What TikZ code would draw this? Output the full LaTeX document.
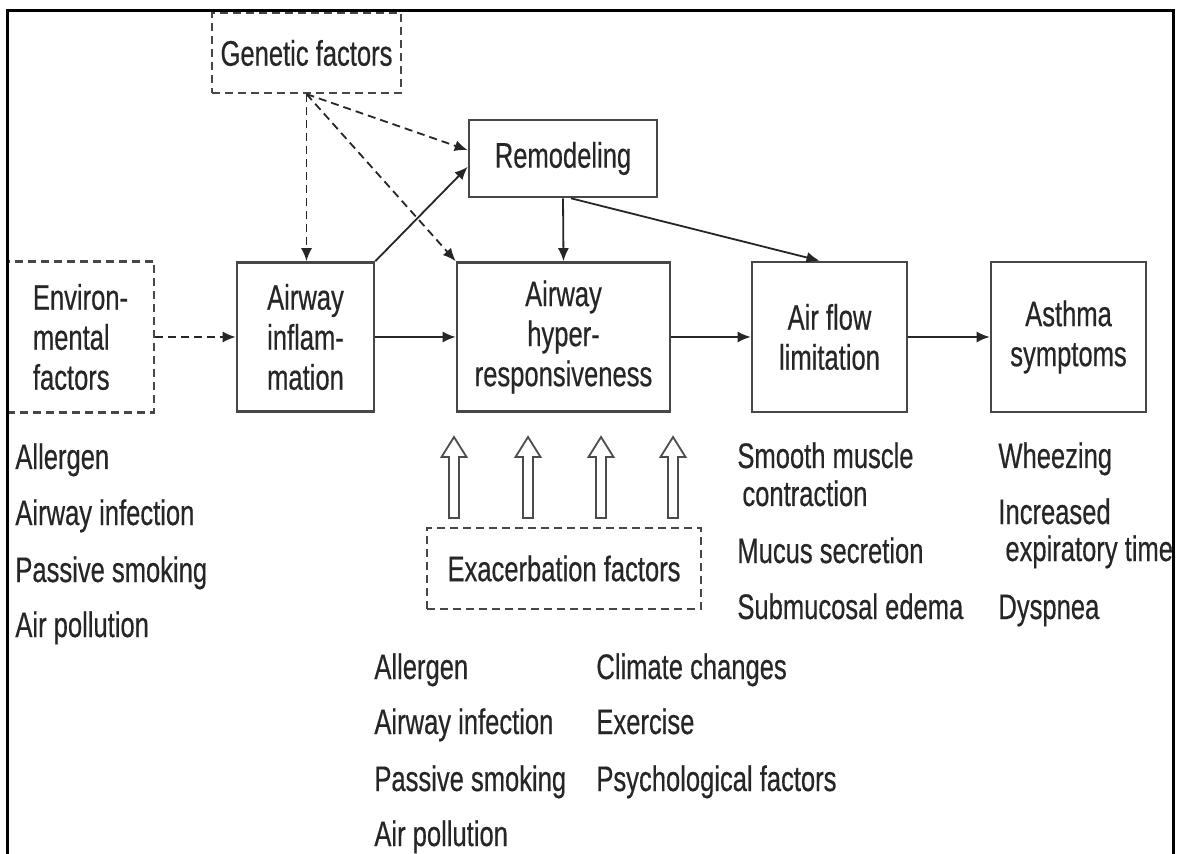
\documentclass[tikz,border=0pt]{standalone}
\usepackage{fontspec}
\setmainfont{Liberation Sans}[FakeStretch=0.72, FakeBold=0.4]
\usetikzlibrary{arrows.meta}
\begin{document}
\begin{tikzpicture}[x=0.5pt,y=-0.5pt,
  every node/.style={font=\fontsize{17.75}{20}\selectfont, text=black!85},
  box/.style={draw=black!72, line width=1.3pt, inner sep=2pt, align=center},
  dbox/.style={box, line width=1.1pt, dash pattern=on 4pt off 2.5pt},
  conn/.style={draw=black!85, line width=0.9pt, -{Latex[length=6.5pt,width=5.5pt]}},
  dconn/.style={conn, dash pattern=on 4pt off 2.5pt},
  item/.style={anchor=base west, inner sep=0pt},
  blockarrow/.style={draw=black!70, line width=0.9pt, fill=white}]
\useasboundingbox (0,0) rectangle (1181,854);
\fill[white] (0,0) rectangle (1181,854);

% boxes
\node[dbox, minimum width=94.5pt, minimum height=40pt] (gen) at (306.5,53) {Genetic factors};
\node[box, minimum width=94pt, minimum height=38.5pt] (remod) at (563,158.5) {Remodeling};
\node[dbox, minimum width=73.5pt, minimum height=75.5pt, align=left] (env) at (80.5,337) {Environ-\\mental\\factors};
\node[box, minimum width=68.5pt, minimum height=74.5pt, align=left] (infl) at (305.5,337) {Airway\\inflam-\\mation};
\node[box, minimum width=106.5pt, minimum height=74.5pt] (hyper) at (563.5,337) {Airway\\hyper-\\responsiveness};
\node[box, minimum width=77.5pt, minimum height=75pt] (flow) at (829.5,337) {Air flow\\limitation};
\node[box, minimum width=77.5pt, minimum height=75pt] (asth) at (1068.5,337) {Asthma\\symptoms};
\node[dbox, minimum width=137pt, minimum height=40.5pt] (exac) at (564,568.5) {Exacerbation factors};

% connectors
\draw[dconn] (env) -- (infl);
\draw[conn] (infl) -- (hyper);
\draw[conn] (hyper) -- (flow);
\draw[conn] (flow) -- (asth);
\draw[dconn] (gen.south) -- (gen.south |- infl.north);
\draw[dconn] (gen.south) -- (remod.175);
\draw[dconn] (gen.south) -- (hyper.north west);
\draw[conn] (infl.north east) -- (remod.185);
\draw[conn] (remod.south) -- (hyper.north);
\draw[conn] ([xshift=4pt]remod.south) -- ([xshift=-5pt]flow.north);

% open block arrows
\foreach \cx in {454,528,601,673}{
  \draw[blockarrow] (\cx-5,518) -- (\cx-5,457) -- (\cx-12.5,457) -- (\cx,437)
    -- (\cx+12.5,457) -- (\cx+5,457) -- (\cx+5,518) -- cycle;
}

% lists
\node[item] (e1) at (15,469) {Allergen};
\node[item] (e2) at (15,525) {Airway infection};
\node[item] (e3) at (15,582) {Passive smoking};
\node[item] (e4) at (15,637) {Air pollution};

\node[item] (f1) at (737,468) {Smooth muscle};
\node[item] (f2) at (742,506) {contraction};
\node[item] (f3) at (737,563) {Mucus secretion};
\node[item] (f4) at (737,619) {Submucosal edema};

\node[item] (s1) at (998,468) {Wheezing};
\node[item] (s2) at (998,524) {Increased};
\node[item] (s3) at (1005,561) {expiratory time};
\node[item] (s4) at (998,619) {Dyspnea};

\node[item] (x1) at (374,679) {Allergen};
\node[item] (x2) at (374,734) {Airway infection};
\node[item] (x3) at (374,791) {Passive smoking};
\node[item] (x4) at (374,846) {Air pollution};
\node[item] (x5) at (596,679) {Climate changes};
\node[item] (x6) at (596,734) {Exercise};
\node[item] (x7) at (596,791) {Psychological factors};

% frame
\draw[line width=1.5pt] (7,860) -- (7,11) -- (1173,11) -- (1173,860);
\end{tikzpicture}
\end{document}
